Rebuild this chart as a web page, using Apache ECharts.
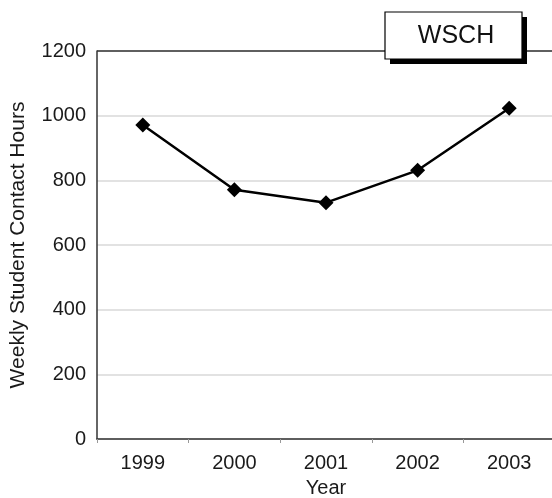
<!DOCTYPE html>
<html><head><meta charset="utf-8">
<script src="https://cdn.jsdelivr.net/npm/echarts@6/dist/echarts.min.js"></script>
<style>html,body{margin:0;padding:0;background:#fff}#c{width:552px;height:498px}</style>
</head><body><div id="c"></div>
<script>
const categories = ['1999','2000','2001','2002','2003'];
const wsch = [971, 771, 731, 831, 1023];
const yTicks = [0, 200, 400, 600, 800, 1000, 1200];
const FONT = '"Liberation Sans", Arial, sans-serif';
const chart = echarts.init(document.getElementById('c'));
chart.setOption({
  animation: false,
  backgroundColor: '#fff',
  grid: { left: 97, top: 51, width: 458, bottom: 59, outerBoundsMode: 'none', containLabel: false },
  graphic: [
    { type: 'rect', shape: { x: 390, y: 17, width: 137, height: 47 }, style: { fill: '#000' }, z: 100 },
    { type: 'rect', shape: { x: 385, y: 12, width: 137, height: 47 }, style: { fill: '#fff', stroke: '#000', lineWidth: 1.2 }, z: 101 },
    { type: 'text', x: 456, y: 36, style: { text: 'WSCH', font: '25px ' + FONT, fill: '#111', align: 'center', verticalAlign: 'middle' }, z: 102 }
  ],
  xAxis: {
    type: 'category', data: categories, boundaryGap: true,
    name: 'Year', nameLocation: 'middle', nameGap: 39,
    nameTextStyle: { fontFamily: FONT, fontSize: 20, color: '#1a1a1a' },
    axisLine: { lineStyle: { color: '#333', width: 1.5 } },
    axisTick: { show: true, length: 4, lineStyle: { color: '#999' } },
    axisLabel: { fontFamily: FONT, fontSize: 20, color: '#1a1a1a', margin: 14 },
    splitLine: { show: false }
  },
  yAxis: {
    type: 'value', min: 0, max: 1200, interval: 200,
    name: 'Weekly Student Contact Hours', nameLocation: 'middle', nameGap: 68,
    nameTextStyle: { fontFamily: FONT, fontSize: 21, color: '#1a1a1a' },
    axisLine: { show: true, lineStyle: { color: '#333', width: 1.5 } },
    axisTick: { show: false },
    axisLabel: { fontFamily: FONT, fontSize: 20, color: '#1a1a1a', margin: 11,
      formatter: v => yTicks.includes(v) ? String(v) : '' },
    splitLine: { show: true, lineStyle: { color: '#d8d8d8', width: 1.5 } }
  },
  series: [{
    type: 'line', data: wsch,
    symbol: 'diamond', symbolSize: 15,
    lineStyle: { color: '#000', width: 2.5 },
    itemStyle: { color: '#000' }
  }, {
    type: 'line', data: [],
    markLine: { silent: true, symbol: 'none', label: { show: false },
      lineStyle: { color: '#333', type: 'solid', width: 1.5 },
      data: [{ yAxis: 1200 }] }
  }]
});
</script></body></html>
